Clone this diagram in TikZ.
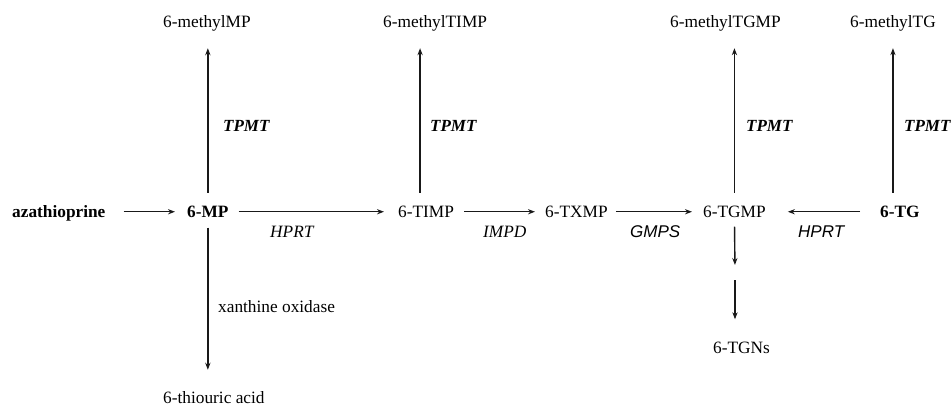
\documentclass[tikz,border=0pt]{standalone}
\usepackage{fontspec}
\setmainfont{Liberation Serif}
\newfontfamily\labsans{Liberation Sans}
\usetikzlibrary{arrows.meta}

\tikzset{
  txt/.style={inner sep=0pt, text height=11.5pt, text depth=0pt,
              anchor=base west, font=\fontsize{17.3}{20}\selectfont},
  met/.style={txt, font=\fontsize{17.3}{20}\selectfont\bfseries},
  enz/.style={txt, font=\fontsize{17.3}{20}\selectfont\itshape},
  enzsans/.style={txt, font=\fontsize{17}{20}\selectfont\labsans\itshape},
  tpmt/.style={txt, font=\fontsize{17}{20}\selectfont\bfseries\itshape},
  arr/.style={draw=black!90, line width=1.4pt,
              -{Stealth[length=7pt,width=5.2pt]}}
}

\begin{document}
\begin{tikzpicture}[x=1pt,y=-1pt]
\useasboundingbox (0,0) rectangle (952,406);

% main row
\node[met] (aza)  at (12,217.5)  {azathioprine};
\node[met] (mp)   at (187,217.5) {6-MP};
\node[txt] (timp) at (398,217.5) {6-TIMP};
\node[txt] (txmp) at (545,217.5) {6-TXMP};
\node[txt] (tgmp) at (703,217.5) {6-TGMP};
\node[met] (tg)   at (880,217.5) {6-TG};

% methylated products
\node[txt] (mmp)   at (163,28) {6-methylMP};
\node[txt] (mtimp) at (383,28) {6-methylTIMP};
\node[txt] (mtgmp) at (670,28) {6-methylTGMP};
\node[txt] (mtg)   at (850,28) {6-methylTG};

% other products
\node[txt] (thio) at (163,403) {6-thiouric acid};
\node[txt] (tgns) at (713,353) {6-TGNs};
\coordinate (tgmid) at (735,272);

% enzymes
\node[txt]     (xo)    at (218,312) {xanthine oxidase};
\node[tpmt]    (tp1)   at (223,132) {TPMT};
\node[tpmt]    (tp2)   at (430,132) {TPMT};
\node[tpmt]    (tp3)   at (746,132) {TPMT};
\node[tpmt]    (tp4)   at (904,132) {TPMT};
\node[enz]     (hprt1) at (270,237) {HPRT};
\node[enz]     (impd)  at (483,237) {IMPD};
\node[enzsans] (gmps)  at (630,237) {GMPS};
\node[enzsans] (hprt2) at (798,237) {HPRT};

% horizontal conversions
\draw[arr, shorten <=18pt, shorten >=12pt] (aza.east) -- (mp.west);
\draw[arr, shorten <=10pt, shorten >=14pt] (mp.east) -- (timp.west);
\draw[arr, shorten <=10pt, shorten >=10pt] (timp.east) -- (txmp.west);
\draw[arr, shorten <=8pt, shorten >=11pt] (txmp.east) -- (tgmp.west);
\draw[arr, shorten <=20pt, shorten >=22pt] (tg.west) -- (tgmp.east);

% methylation by TPMT
\draw[arr, shorten <=13pt, shorten >=20pt] (mp.north) -- (mp.north |- mmp.south);
\draw[arr, shorten <=13pt, shorten >=20pt]
  ([xshift=-6pt]timp.north) -- ([xshift=-6pt]timp.north |- mtimp.south);
\draw[arr, shorten <=13pt, shorten >=20pt] (tgmp.north) -- (tgmp.north |- mtgmp.south);
\draw[arr, shorten <=13pt, shorten >=20pt] (tg.north -| mtg.south) -- (mtg.south);

% oxidation and nucleotide formation
\draw[arr, shorten <=10pt, shorten >=21.5pt] (mp.south) -- (mp.south |- thio.north);
\draw[arr, shorten <=9pt, shorten >=7pt] (tgmp.south) -- (tgmid);
\draw[arr, shorten <=8pt, shorten >=22pt] (tgmid) -- (tgmid |- tgns.north);
\end{tikzpicture}
\end{document}
